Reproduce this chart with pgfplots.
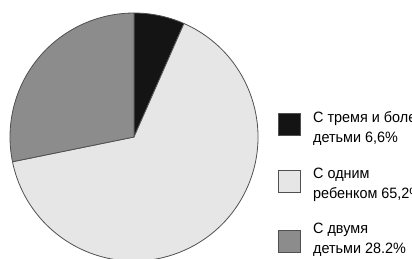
\documentclass[border=0pt]{standalone}
\usepackage{pgfplots}
\pgfplotsset{compat=1.18}
\usepackage{fontspec}
\setmainfont{Liberation Sans}[FakeStretch=0.96]
\definecolor{cBlack}{HTML}{141414}
\definecolor{cLight}{HTML}{E6E6E6}
\definecolor{cGray}{HTML}{8C8C8C}
\definecolor{cEdge}{HTML}{505050}
\begin{document}
\begin{tikzpicture}[x=1pt,y=1pt]
\path[use as bounding box] (0,0) rectangle (412,258);
\clip (0,0) rectangle (412,258);
\begin{axis}[
  hide axis, scale only axis,
  width=248pt, height=248pt,
  xmin=-1, xmax=1, ymin=-1, ymax=1,
  at={(134pt,121pt)}, anchor=center,
  clip=false]
% shares: 6.6, 65.2, 28.2 percent -> 23.76, 234.72, 101.52 degrees, clockwise from top
\filldraw[fill=cBlack, draw=cEdge, line width=0.8pt] (axis cs:0,0) -- ++(90:124pt) arc[start angle=90, end angle=66.24, radius=124pt] -- cycle;
\filldraw[fill=cLight, draw=cEdge, line width=0.8pt] (axis cs:0,0) -- ++(66.24:124pt) arc[start angle=66.24, end angle=-168.48, radius=124pt] -- cycle;
\filldraw[fill=cGray, draw=cEdge, line width=0.8pt] (axis cs:0,0) -- ++(191.52:124pt) arc[start angle=191.52, end angle=90, radius=124pt] -- cycle;
\end{axis}
\filldraw[fill=cBlack, draw=cEdge, line width=0.6pt] (278,123) rectangle (300,145);
\filldraw[fill=cLight, draw=cEdge, line width=0.8pt] (278,66) rectangle (300,88);
\filldraw[fill=cGray, draw=cEdge, line width=0.6pt] (278,6) rectangle (300,28);
\begin{scope}[every node/.style={anchor=base west, inner sep=0pt, font=\fontsize{15}{18}\selectfont, text=black}]
\node at (313,136) {С тремя и более};
\node at (313,116) {детьми 6,6\%};
\node at (313,80) {С одним};
\node at (313,60) {ребенком 65,2\%};
\node at (313,25) {С двумя};
\node at (313,5) {детьми 28.2\%};
\end{scope}
\end{tikzpicture}
\end{document}
